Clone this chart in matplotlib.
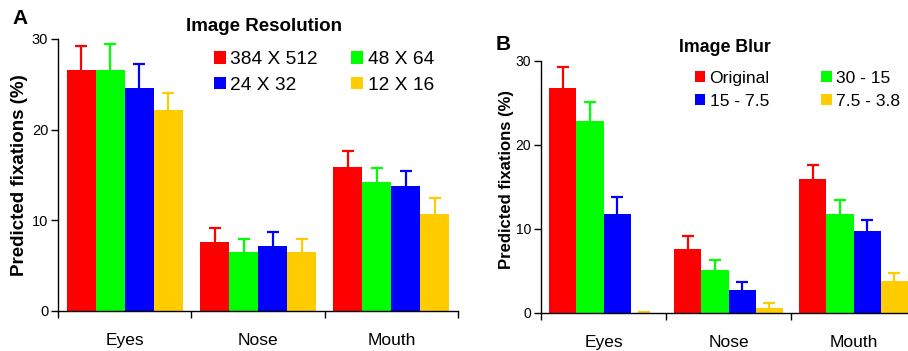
import numpy as np
import matplotlib
matplotlib.use("Agg")
import matplotlib.pyplot as plt
from matplotlib.patches import Patch

plt.rcParams['font.family'] = ['Liberation Sans', 'DejaVu Sans']

regions = ['Eyes', 'Nose', 'Mouth']
colors = ['#ff0000', '#00ff00', '#0000ff', '#ffcc00']

# Panel A - image resolution
res_labels = ['384 X 512', '48 X 64', '24 X 32', '12 X 16']
res_means = [[26.6, 7.6, 15.9],
             [26.6, 6.5, 14.2],
             [24.6, 7.2, 13.8],
             [22.2, 6.5, 10.7]]
res_err = [[2.6, 1.5, 1.7],
           [2.9, 1.4, 1.6],
           [2.6, 1.5, 1.6],
           [1.8, 1.4, 1.8]]

# Panel B - image blur
blur_labels = ['Original', '30 - 15', '15 - 7.5', '7.5 - 3.8']
blur_means = [[26.75, 7.6, 15.9],
              [22.8, 5.1, 11.8],
              [11.8, 2.7, 9.75],
              [0.0, 0.6, 3.8]]
blur_err = [[2.5, 1.5, 1.7],
            [2.3, 1.2, 1.6],
            [1.95, 1.0, 1.3],
            [0.08, 0.55, 1.0]]


def draw_panel(ax, means, errs, labels, title, leg_anchor, leg_fs,
               colsp, tick_fs, title_fs, ylab_fs, ylab_xy):
    x = np.arange(len(regions))
    w = 0.87 / 4
    for j in range(4):
        pos = x + (j - 1.5) * w
        ax.bar(pos, means[j], width=w, color=colors[j], linewidth=0, zorder=2)
        eb = ax.errorbar(pos, means[j], yerr=[np.zeros(3), errs[j]],
                         fmt='none', ecolor=colors[j], elinewidth=1.6,
                         capsize=4, capthick=1.6, zorder=1)
        # only the upper cap is drawn in the original
        eb[1][0].set_visible(False)
    ax.set_xlim(-0.5, 2.5)
    ax.set_ylim(0, 30)
    ax.set_yticks([0, 10, 20, 30])
    ax.set_xticks(x)
    ax.set_xticklabels(regions, fontsize=12.5)
    ax.set_xticks([-0.5, 0.5, 1.5, 2.5], minor=True)
    ax.tick_params(axis='x', which='major', length=0, pad=16)
    ax.tick_params(axis='x', which='minor', length=5, width=1)
    ax.tick_params(axis='y', labelsize=tick_fs, length=5, width=1, pad=2)
    for s in ['top', 'right']:
        ax.spines[s].set_visible(False)
    for s in ['left', 'bottom']:
        ax.spines[s].set_linewidth(1)
    ax.set_ylabel('Predicted fixations (%)', fontsize=ylab_fs,
                  fontweight='bold')
    ax.yaxis.set_label_coords(*ylab_xy)
    ax.set_title(title, fontsize=title_fs, fontweight='bold')
    order = [0, 2, 1, 3]
    handles = [Patch(facecolor=colors[k], edgecolor='none') for k in order]
    ax.legend(handles, [labels[k] for k in order], ncol=2, frameon=False,
              loc='upper left', bbox_to_anchor=leg_anchor, fontsize=leg_fs,
              handlelength=0.6, handleheight=0.6, handletextpad=0.25,
              columnspacing=colsp, labelspacing=0.45, borderpad=0,
              borderaxespad=0)
    return ax


fig = plt.figure(figsize=(9.08, 3.51), dpi=100)
axA = fig.add_axes([58 / 908, 1 - 311 / 351, 400 / 908, 272 / 351])
axB = fig.add_axes([541 / 908, 1 - 313 / 351, 375 / 908, 252.3 / 351])

draw_panel(axA, res_means, res_err, res_labels, 'Image Resolution',
           (0.39, 0.955), 13.8, 1.75, 10.5, 13.5, 13.5, (-0.075, 0.5))
draw_panel(axB, blur_means, blur_err, blur_labels, 'Image Blur',
           (0.41, 0.96), 12.6, 2.93, 10, 12.8, 12.0, (-0.073, 0.528))

axA.title.set_position((0.515, 1.0))
axB.title.set_position((0.49, 1.0))
fig.text(12 / 908, 1 - 18 / 351, 'A', fontsize=15, fontweight='bold',
         va='center', ha='left')
fig.text(496 / 908, 1 - 44 / 351, 'B', fontsize=15, fontweight='bold',
         va='center', ha='left')

fig.savefig('out.png', dpi=100)
